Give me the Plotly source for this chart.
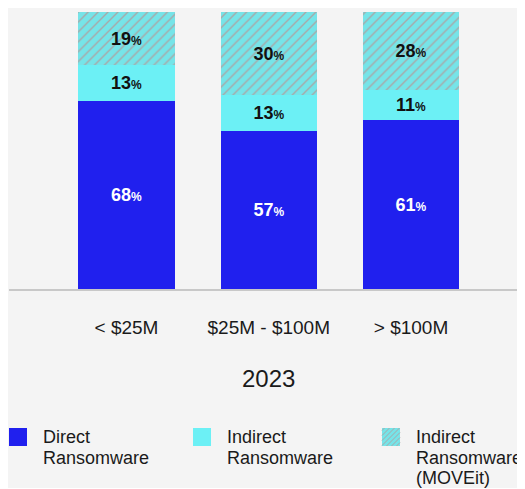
import plotly.graph_objects as go

categories = ["< $25M", "$25M - $100M", "> $100M"]
direct = [68, 57, 61]
indirect = [13, 13, 11]
moveit = [19, 30, 28]
series_names = ["Direct<br>Ransomware", "Indirect<br>Ransomware", "Indirect<br>Ransomware<br>(MOVEit)"]
chart_title = "2023"

BLUE = "#2020ee"
CYAN = "#6cf0f5"
HATCH_BG = "#76e4e8"
HATCH_FG = "#a8a8a8"
BG = "#f4f4f4"
FONT = "Liberation Sans, Arial, sans-serif"

# page body has an 8px margin; work in screen pixels and subtract it
OFF = 8
W, H = 525 - OFF, 489 - OFF - 1
L, R = 9 - OFF, 0
T = 12 - OFF
BASE = 289 - OFF
B = H - BASE
PW = W - L - R
PH = BASE - T

xpos = list(range(len(categories)))


def lbl(v):
    return f"{v}<span style='font-size:12px'>%</span>"


fig = go.Figure()
fig.add_trace(go.Bar(
    x=xpos, y=direct, name="Direct", marker=dict(color=BLUE, line=dict(width=0)),
    text=[lbl(v) for v in direct], textposition="inside", insidetextanchor="middle",
    textfont=dict(color="white", size=18, family=FONT, weight=600), textangle=0,
    width=0.675, showlegend=False))
fig.add_trace(go.Bar(
    x=xpos, y=indirect, name="Indirect", marker=dict(color=CYAN, line=dict(width=0)),
    text=[lbl(v) for v in indirect], textposition="inside", insidetextanchor="middle",
    textfont=dict(color="#111111", size=18, family=FONT, weight=600), textangle=0,
    width=0.675, showlegend=False))
fig.add_trace(go.Bar(
    x=xpos, y=moveit, name="MOVEit",
    marker=dict(color=HATCH_BG, line=dict(width=0),
                pattern=dict(shape="/", bgcolor=HATCH_BG, fgcolor=HATCH_FG,
                             fgopacity=1, size=7, solidity=0.2)),
    text=[lbl(v) for v in moveit], textposition="inside", insidetextanchor="middle",
    textfont=dict(color="#111111", size=18, family=FONT, weight=600), textangle=0,
    width=0.675, showlegend=False))

# x range so that bar centers land at the reference pixel positions
step = 142.25
c0 = 126.5 - OFF
xr = [-(c0 - L) / step, (W - R - c0) / step]


def px2x(p):
    return (p - OFF - L) / PW


def py2y(p):
    return (BASE - (p - OFF)) / PH


shapes = []
annotations = []

# manual legend (screen pixel coordinates)
sw = 18
legend_items = [
    (9, BLUE, False, series_names[0]),
    (193, CYAN, False, series_names[1]),
    (382, HATCH_BG, True, series_names[2]),
]
sy0 = 428
for (sx, col, hatched, name) in legend_items:
    shapes.append(dict(type="rect", xref="paper", yref="paper",
                       x0=px2x(sx), x1=px2x(sx + sw), y0=py2y(sy0 + sw), y1=py2y(sy0),
                       fillcolor=col, line=dict(width=0)))
    if hatched:
        d = 5
        k = sx + sy0 + d / 2
        while k < sx + sy0 + 2 * sw:
            xa = max(sx, k - (sy0 + sw))
            xb = min(sx + sw, k - sy0)
            if xb > xa:
                shapes.append(dict(type="line", xref="paper", yref="paper",
                                   x0=px2x(xa), y0=py2y(k - xa), x1=px2x(xb), y1=py2y(k - xb),
                                   line=dict(color=HATCH_FG, width=1)))
            k += d
    lines = name.split("<br>")
    for i, ln in enumerate(lines):
        annotations.append(dict(text=ln, xref="paper", yref="paper",
                                x=px2x(sx + 32), y=py2y(437 + i * 20.5),
                                xanchor="left", yanchor="middle", showarrow=False,
                                font=dict(size=18, color="#1a1a1a", family=FONT)))

annotations.append(dict(text=chart_title, xref="paper", yref="paper",
                        x=px2x(268), y=py2y(378), xanchor="center", yanchor="middle",
                        showarrow=False, font=dict(size=24, color="#1a1a1a", family=FONT)))

fig.update_layout(
    width=W, height=H,
    margin=dict(l=L, r=R, t=T, b=B, pad=0),
    paper_bgcolor=BG, plot_bgcolor=BG,
    barmode="stack", bargap=0,
    uniformtext=dict(mode=False),
    shapes=shapes, annotations=annotations,
    xaxis=dict(range=xr, tickvals=xpos, ticktext=categories, showgrid=False,
               zeroline=False, showline=True, linecolor="#c8c8c8", linewidth=2,
               ticks="outside", ticklen=20, tickcolor="rgba(0,0,0,0)",
               tickfont=dict(size=19, color="#1a1a1a", family=FONT), fixedrange=True),
    yaxis=dict(range=[0, 100], visible=False, showgrid=False, zeroline=False, fixedrange=True),
    font=dict(family=FONT),
)

fig.write_html("out.html", config={"displayModeBar": False})
